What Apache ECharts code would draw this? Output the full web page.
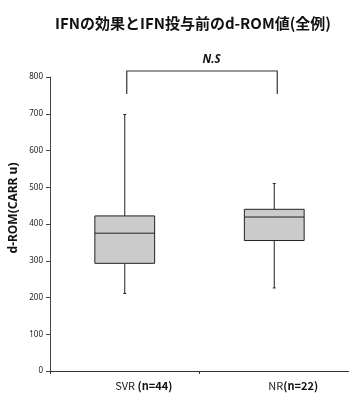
<!DOCTYPE html>
<html><head><meta charset="utf-8">
<script src="https://cdn.jsdelivr.net/npm/echarts@6/dist/echarts.min.js"></script>
<style>html,body{margin:0;padding:0;background:#fff}#c{width:349px;height:394px}</style>
</head><body><div id="c"></div>
<script>
const categories = ['SVR', 'NR'];
const counts = ['n=44', 'n=22'];
// [min, Q1, median, Q3, max]
const svrBox = [211, 293, 375, 422, 698];
const nrBox = [226, 355, 419, 440, 510];
const yTicks = [0, 100, 200, 300, 400, 500, 600, 700, 800];
const titleText = 'IFNの効果とIFN投与前のd-ROM値(全例)';
const sigLabel = 'N.S';
const bracketY = 800;

const boxes = [svrBox, nrBox];
const chart = echarts.init(document.getElementById('c'));
const font = 'Noto Sans CJK JP';

function renderBox(params, api) {
  const i = api.value(0);
  const v = [api.value(1), api.value(2), api.value(3), api.value(4), api.value(5)];
  const pMin = api.coord([i, v[0]]);
  const pQ1 = api.coord([i, v[1]]);
  const pMed = api.coord([i, v[2]]);
  const pQ3 = api.coord([i, v[3]]);
  const pMax = api.coord([i, v[4]]);
  const bw = api.size([1, 0])[0] * 0.4;
  const cx = pMed[0];
  const x0 = cx - bw / 2, x1 = cx + bw / 2;
  const ls = { stroke: '#222', lineWidth: 1 };
  return {
    type: 'group',
    children: [
      { type: 'line', shape: { x1: cx, y1: pQ3[1], x2: cx, y2: pMax[1] }, style: ls },
      { type: 'line', shape: { x1: cx, y1: pQ1[1], x2: cx, y2: pMin[1] }, style: ls },
      { type: 'line', shape: { x1: cx - 1.5, y1: pMax[1], x2: cx + 1.5, y2: pMax[1] }, style: ls },
      { type: 'line', shape: { x1: cx - 1.5, y1: pMin[1], x2: cx + 1.5, y2: pMin[1] }, style: ls },
      { type: 'rect', shape: { x: x0, y: pQ3[1], width: bw, height: pQ1[1] - pQ3[1] },
        style: { fill: '#cbcbcb', stroke: '#222', lineWidth: 1 } },
      { type: 'line', shape: { x1: x0, y1: pMed[1], x2: x1, y2: pMed[1] }, style: ls }
    ]
  };
}

function renderBracket(params, api) {
  const a = api.coord([0, api.value(0)]);
  const b = api.coord([1, api.value(0)]);
  const top = a[1] - 6;
  const bottom = a[1] + 17;
  const ls = { stroke: '#333', lineWidth: 1.2, fill: null };
  return {
    type: 'group',
    children: [
      { type: 'polyline', shape: { points: [[a[0] + 2, bottom], [a[0] + 2, top], [b[0] + 3, top], [b[0] + 3, bottom]] }, style: ls },
      { type: 'text', style: { text: sigLabel, x: (a[0] + b[0]) / 2 + 12, y: top - 5,
        textAlign: 'center', textVerticalAlign: 'bottom', fill: '#111',
        font: 'italic bold 11.5px "Noto Sans", sans-serif' } }
    ]
  };
}

chart.setOption({
  animation: false,
  title: {
    text: titleText, left: 188, top: 11, textAlign: 'center',
    textStyle: { fontFamily: font, fontSize: 15, fontWeight: 'bold', color: '#111' }
  },
  grid: { left: 50, right: 0, top: 77, bottom: 23 },
  xAxis: {
    type: 'category', data: categories,
    axisLine: { lineStyle: { color: '#333', width: 1 } },
    axisTick: { show: true, length: 3, lineStyle: { color: '#333' }, alignWithLabel: false },
    axisLabel: {
      margin: 9,
      padding: [0, 0, 0, 38],
      formatter: (val, idx) => '{a|' + val + (idx === 0 ? ' ' : '') + '}{b|(' + counts[idx] + ')}',
      rich: {
        a: { fontFamily: font, fontSize: 11, color: '#222' },
        b: { fontFamily: font, fontSize: 11, fontWeight: 'bold', color: '#111' }
      }
    }
  },
  yAxis: {
    type: 'value', min: yTicks[0], max: yTicks[yTicks.length - 1], interval: 100,
    axisLine: { show: true, lineStyle: { color: '#444', width: 1 } },
    axisTick: { show: true, length: 4, lineStyle: { color: '#444' } },
    splitLine: { show: false },
    axisLabel: { margin: 7, fontFamily: '"Noto Sans", sans-serif', fontSize: 8, color: '#222' }
  },
  graphic: [{
    type: 'text', x: 14, y: 208, rotation: Math.PI / 2,
    style: { text: 'd-ROM(CARR u)', textAlign: 'center', textVerticalAlign: 'middle',
      fill: '#111', font: 'bold 12px "Noto Sans", sans-serif' }
  }],
  series: [
    {
      type: 'custom', renderItem: renderBox,
      encode: { x: 0, y: [1, 2, 3, 4, 5] },
      data: boxes.map((b, i) => [i].concat(b)),
      clip: false
    },
    {
      type: 'custom', renderItem: renderBracket,
      data: [[bracketY]], clip: false, encode: { y: 0 }
    }
  ]
});
</script></body></html>
